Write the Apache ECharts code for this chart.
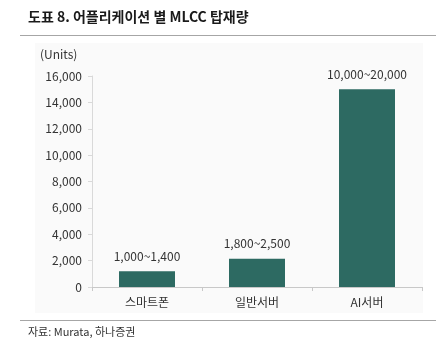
<!DOCTYPE html>
<html><head><meta charset="utf-8">
<script src="https://cdn.jsdelivr.net/npm/echarts@6/dist/echarts.min.js"></script>
<style>html,body{margin:0;padding:0;background:#fff}#c{width:445px;height:358px}</style>
</head><body><div id="c"></div>
<script>
const categories = ['스마트폰', '일반서버', 'AI서버'];
const values = [1200, 2150, 15000];
const rangeLabels = ['1,000~1,400', '1,800~2,500', '10,000~20,000'];
const yTicks = [0, 2000, 4000, 6000, 8000, 10000, 12000, 14000, 16000];

const chart = echarts.init(document.getElementById('c'), null, {renderer: 'canvas'});
const font = '"Noto Sans CJK KR", "Noto Sans", sans-serif';
chart.setOption({
  animation: false,
  textStyle: {fontFamily: font},
  graphic: [
    {type: 'rect', z: -10, shape: {x: 35, y: 43, width: 388, height: 270}, style: {fill: '#fafafa'}},
    {type: 'text', left: 28, top: 10, style: {text: '도표 8. 어플리케이션 별 MLCC 탑재량', font: 'bold 14px ' + font, fill: '#1a1a1a'}},
    {type: 'line', shape: {x1: 20, y1: 35.5, x2: 436, y2: 35.5}, style: {stroke: '#a6a6a6', lineWidth: 1}},
    {type: 'text', left: 40, top: 48, style: {text: '(Units)', font: '12px ' + font, fill: '#333'}},
    {type: 'line', shape: {x1: 20, y1: 320.5, x2: 436, y2: 320.5}, style: {stroke: '#a6a6a6', lineWidth: 1}},
    {type: 'text', left: 28, top: 326, style: {text: '자료: Murata, 하나증권', font: '11px ' + font, fill: '#333'}}
  ],
  grid: {left: 92, right: 23, top: 76, bottom: 71},
  xAxis: {
    type: 'category', data: categories,
    axisLine: {lineStyle: {color: '#c8c8c8'}},
    axisTick: {show: true, length: 4, lineStyle: {color: '#c8c8c8'}},
    axisLabel: {color: '#333', fontSize: 12, margin: 9, fontFamily: font}
  },
  yAxis: {
    type: 'value', min: 0, max: 16000, interval: 2000,
    splitLine: {show: false},
    axisLine: {show: true, lineStyle: {color: '#d9d9d9'}},
    axisTick: {show: true, length: 4, lineStyle: {color: '#d9d9d9'}},
    axisLabel: {color: '#333', fontSize: 12, margin: 10, fontFamily: font,
      formatter: v => v.toLocaleString('en-US')}
  },
  series: [{
    type: 'bar', data: values, barWidth: 56,
    itemStyle: {color: '#2d6a62'},
    label: {show: true, position: 'top', distance: 9, color: '#333', fontSize: 12, fontFamily: font,
      formatter: p => rangeLabels[p.dataIndex]}
  }]
});
</script></body></html>
